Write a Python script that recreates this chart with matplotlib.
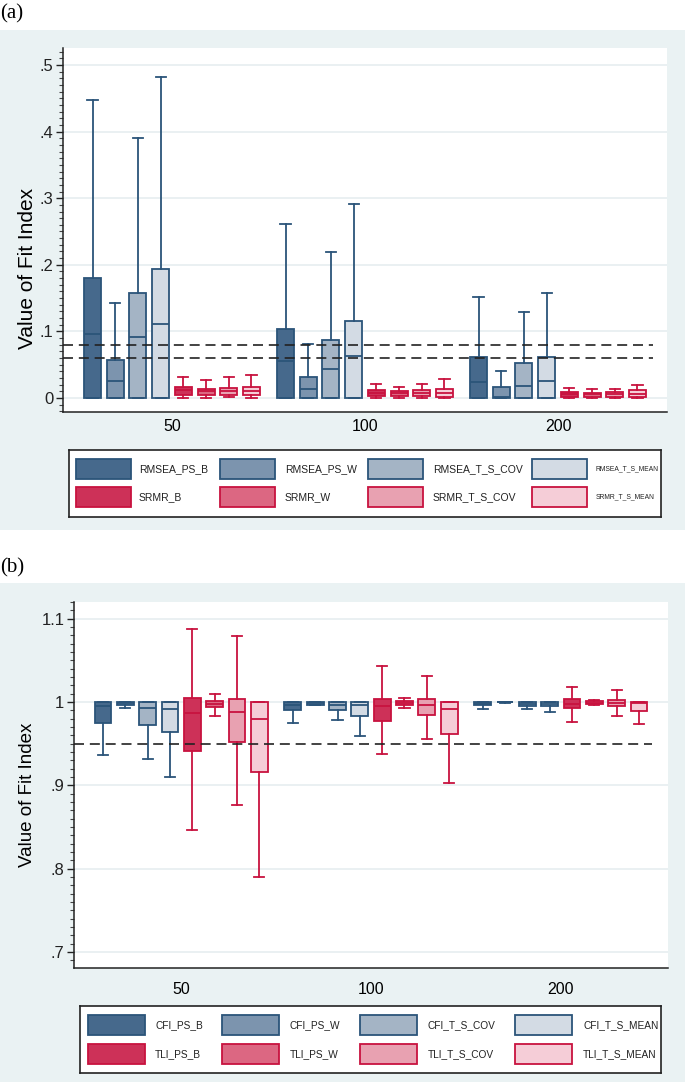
import matplotlib
matplotlib.use("Agg")
import matplotlib.pyplot as plt
from matplotlib.patches import Rectangle
from matplotlib.ticker import FuncFormatter, MultipleLocator

plt.rcParams["font.family"] = ["Liberation Sans", "DejaVu Sans"]

# ---- data: [min, q1, median, q3, max] for sample sizes 50, 100, 200 ----
groups = ["50", "100", "200"]

rmsea_ps_b = [[0, 0, .096, .180, .447], [0, 0, .056, .104, .262], [0, 0, .0245, .061, .152]]
rmsea_ps_w = [[0, 0, .0255, .057, .143], [0, 0, .0135, .032, .081], [0, 0, .002, .017, .041]]
rmsea_t_s_cov = [[0, 0, .091, .157, .390], [0, 0, .0435, .087, .219], [0, 0, .0185, .052, .129]]
rmsea_t_s_mean = [[0, 0, .111, .194, .482], [0, 0, .0635, .116, .291], [0, 0, .026, .062, .157]]
srmr_b = [[.0005, .0045, .012, .016, .032], [0, .003, .008, .012, .021], [0, .002, .006, .009, .0145]]
srmr_w = [[.0005, .005, .010, .014, .027], [0, .0025, .0075, .011, .017], [0, .002, .0055, .008, .013]]
srmr_t_s_cov = [[.001, .005, .011, .015, .032], [0, .003, .008, .012, .021], [0, .002, .006, .009, .014]]
srmr_t_s_mean = [[0, .004, .010, .016, .035], [0, .0015, .007, .013, .028], [0, .001, .006, .012, .019]]

cfi_ps_b = [[.9368, .9748, .9948, 1.0, 1.0], [.9748, .990, .996, 1.0, 1.0], [.9912, .996, .998, 1.0, 1.0]]
cfi_ps_w = [[.993, .997, .999, 1.0, 1.0], [.997, .997, .999, 1.0, 1.0], [.999, .9995, 1.0, 1.0, 1.0]]
cfi_t_s_cov = [[.9316, .973, .993, 1.0, 1.0], [.978, .991, .997, 1.0, 1.0], [.9916, .9956, .998, 1.0, 1.0]]
cfi_t_s_mean = [[.910, .964, .9916, 1.0, 1.0], [.9588, .983, .9968, 1.0, 1.0], [.9884, .9948, .998, 1.0, 1.0]]
tli_ps_b = [[.8464, .9416, .987, 1.0048, 1.0872], [.9372, .977, .9952, 1.004, 1.0428], [.976, .9928, .998, 1.0032, 1.018]]
tli_ps_w = [[.9828, .994, .998, 1.0008, 1.0092], [.993, .997, .999, 1.0012, 1.0052], [.9968, .9972, .999, 1.0012, 1.002]]
tli_t_s_cov = [[.876, .9524, .988, 1.0032, 1.0788], [.956, .985, .997, 1.004, 1.031], [.9828, .9948, .9988, 1.0028, 1.0148]]
tli_t_s_mean = [[.790, .9164, .9796, 1.0, 1.0], [.903, .9616, .992, 1.0, 1.0], [.9732, .9896, .999, 1.0, 1.0]]

top_names = ["RMSEA_PS_B", "RMSEA_PS_W", "RMSEA_T_S_COV", "RMSEA_T_S_MEAN",
             "SRMR_B", "SRMR_W", "SRMR_T_S_COV", "SRMR_T_S_MEAN"]
top_series = [rmsea_ps_b, rmsea_ps_w, rmsea_t_s_cov, rmsea_t_s_mean,
              srmr_b, srmr_w, srmr_t_s_cov, srmr_t_s_mean]
bot_names = ["CFI_PS_B", "CFI_PS_W", "CFI_T_S_COV", "CFI_T_S_MEAN",
             "TLI_PS_B", "TLI_PS_W", "TLI_T_S_COV", "TLI_T_S_MEAN"]
bot_series = [cfi_ps_b, cfi_ps_w, cfi_t_s_cov, cfi_t_s_mean,
              tli_ps_b, tli_ps_w, tli_t_s_cov, tli_t_s_mean]

top_cutoffs = [0.08, 0.06]
bot_cutoffs = [0.95]

# ---- styling ----
blue_edge = "#2b5479"
red_edge = "#c8123f"
fills = ["#46698c", "#7c94ae", "#a4b4c5", "#d3dbe4",
         "#cd3158", "#dc6782", "#e8a1b1", "#f5cdd7"]
edges = [blue_edge] * 4 + [red_edge] * 4
bg = "#eaf2f3"
grid_c = "#e6eef0"

W, H = 685, 1082
fig = plt.figure(figsize=(W / 100, H / 100), dpi=100)


def fx(px):
    return px / W


def fy(py):
    return 1 - py / H


# graph regions (light background), kept behind the axes
fig.patches.append(Rectangle((0, fy(530)), 1, fy(30) - fy(530), transform=fig.transFigure,
                             facecolor=bg, edgecolor="none", zorder=-10))
fig.patches.append(Rectangle((0, 0), 1, fy(583), transform=fig.transFigure,
                             facecolor=bg, edgecolor="none", zorder=-10))
fig.text(fx(0), fy(14), "(a)", family="Liberation Serif", fontsize=15, va="center", ha="left")
fig.text(fx(0), fy(568), "(b)", family="Liberation Serif", fontsize=15, va="center", ha="left")

GROUP_STEP = 8.5


def draw_panel(ax, series, ylim, major, fmt, cutoffs, cut_end):
    ax.set_facecolor("white")
    for i, s in enumerate(series):
        stats = []
        pos = []
        for g, v in enumerate(s):
            stats.append(dict(whislo=v[0], q1=v[1], med=v[2], q3=v[3], whishi=v[4]))
            pos.append(g * GROUP_STEP + i)
        art = ax.bxp(stats, positions=pos, widths=0.75, capwidths=0.45, patch_artist=True,
                     showfliers=False, manage_ticks=False,
                     boxprops=dict(facecolor=fills[i], edgecolor=edges[i], linewidth=1.3),
                     medianprops=dict(color=edges[i], linewidth=1.3),
                     whiskerprops=dict(color=edges[i], linewidth=1.3),
                     capprops=dict(color=edges[i], linewidth=1.3))
        for b in art["boxes"]:
            b.set_zorder(3)
        for k in ("medians", "whiskers", "caps"):
            for l in art[k]:
                l.set_zorder(3)
    x0 = -1.3
    ax.set_xlim(x0, 25.3)
    ax.set_ylim(*ylim)
    for c in cutoffs:
        ax.plot([x0, cut_end], [c, c], color="#222222", lw=1.2, dashes=(6, 3.5), zorder=4)
    ax.yaxis.set_major_locator(MultipleLocator(major))
    ax.yaxis.set_minor_locator(MultipleLocator(0.01))
    ax.yaxis.set_major_formatter(FuncFormatter(fmt))
    ax.grid(axis="y", which="major", color=grid_c, lw=1.2, zorder=0)
    ax.set_axisbelow(True)
    ax.set_xticks([g * GROUP_STEP + 3.5 for g in range(len(groups))])
    ax.set_xticklabels(groups, fontsize=11.5)
    ax.tick_params(axis="x", length=0, pad=5)
    ax.tick_params(axis="y", which="major", length=5, width=1, labelsize=12, pad=2, colors="#222222")
    ax.tick_params(axis="y", which="minor", length=3, width=0.8, colors="#444444")
    for sp in ("top", "right"):
        ax.spines[sp].set_visible(False)
    for sp in ("left", "bottom"):
        ax.spines[sp].set_color("#222222")
        ax.spines[sp].set_linewidth(1.1)


def fmt_val(v, _):
    s = ("%.1f" % v).rstrip("0").rstrip(".")
    if s.startswith("0."):
        s = s[1:]
    if s == "-0":
        s = "0"
    return s


def draw_legend(box, patch_x, label_x, rows, pw, names, sizes):
    l, t, r, b = box
    lg = fig.add_axes([fx(l), fy(b), fx(r) - fx(l), fy(t) - fy(b)])
    lg.set_xlim(l, r)
    lg.set_ylim(b, t)
    lg.set_xticks([])
    lg.set_yticks([])
    lg.set_facecolor("white")
    for sp in lg.spines.values():
        sp.set_color("#222222")
        sp.set_linewidth(1.2)
    for k, name in enumerate(names):
        row, col = divmod(k, 4)
        yc = rows[row]
        lg.add_patch(Rectangle((patch_x[col], yc - 10), pw, 20, facecolor=fills[k],
                               edgecolor=edges[k], linewidth=1.3))
        lg.text(label_x[col], yc, name, fontsize=sizes[k], va="center", ha="left", color="#222222")


# panel (a)
ax1 = fig.add_axes([fx(63), fy(412), fx(667) - fx(63), fy(48) - fy(412)])
draw_panel(ax1, top_series, (-0.021, 0.5255), 0.1, fmt_val, top_cutoffs, 24.7)
fig.text(fx(28), fy(268), "Value of Fit Index", rotation=90, fontsize=15, va="center", ha="center")
draw_legend((69, 450, 661, 517), [76, 220, 368, 532], [139, 285, 433, 596], [469, 497], 55,
            top_names, [7.5, 7.5, 7.5, 4.9, 7.5, 7.5, 7.5, 4.9])

# panel (b)
ax2 = fig.add_axes([fx(74), fy(968), fx(668) - fx(74), fy(602) - fy(968)])
draw_panel(ax2, bot_series, (0.681, 1.12), 0.1, fmt_val, bot_cutoffs, 24.6)
ax2.tick_params(axis="x", pad=10)
fig.text(fx(28), fy(795), "Value of Fit Index", rotation=90, fontsize=13.5, va="center", ha="center")
draw_legend((80, 1006, 661, 1073), [88, 222, 360, 515], [155, 290, 428, 583], [1025, 1054], 57,
            bot_names, [7.3] * 8)

fig.savefig("out.png", dpi=100)
